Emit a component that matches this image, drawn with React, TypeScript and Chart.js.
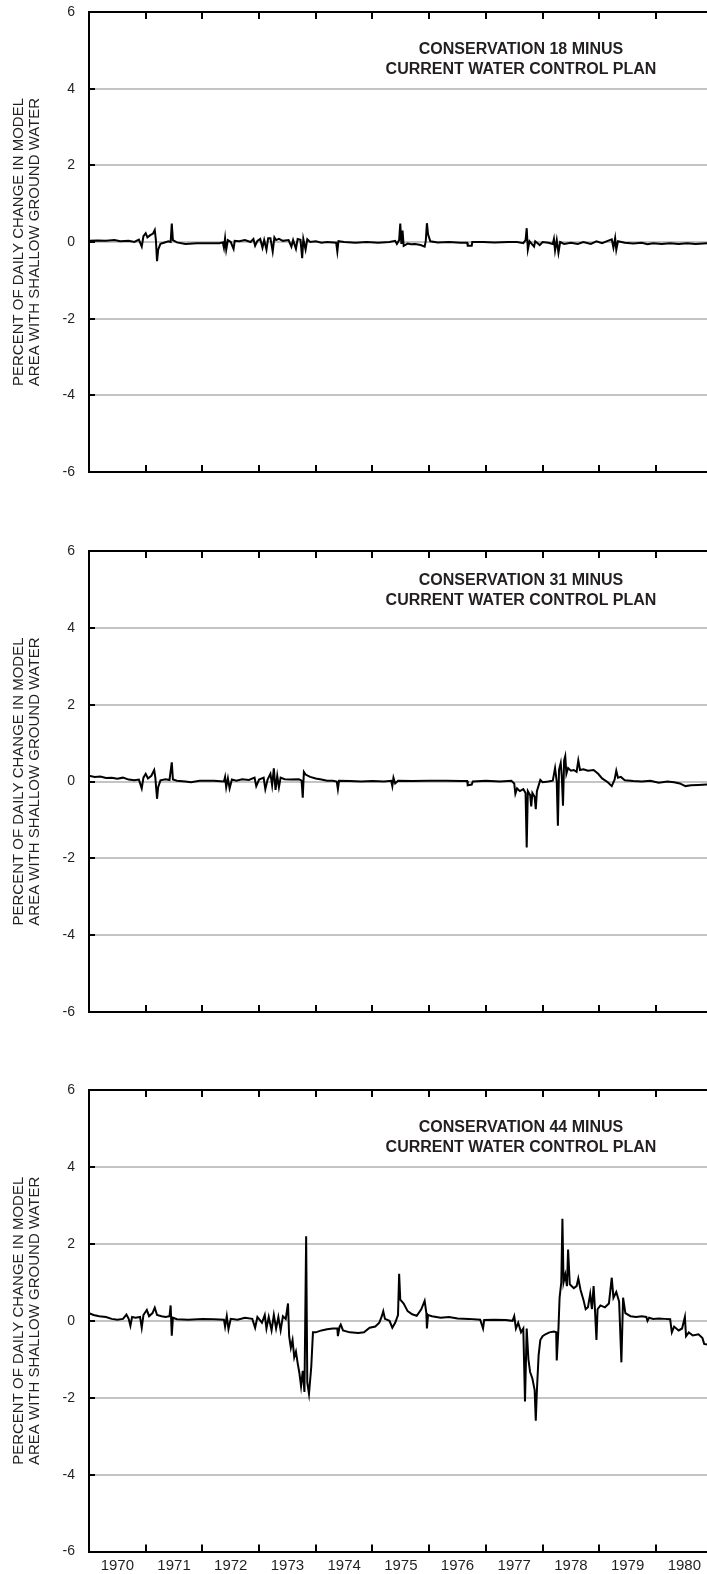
import React, { useEffect, useRef } from "react";
import { Chart, registerables } from "chart.js";

Chart.register(...registerables);

const FONT = '"Liberation Sans", Arial, Helvetica, sans-serif';
Chart.defaults.font.family = FONT;

// ---------- labels ----------
const yearLabels = ["1970", "1971", "1972", "1973", "1974", "1975", "1976", "1977", "1978", "1979", "1980"];
const yTickValues = [-6, -4, -2, 0, 2, 4, 6];
const yAxisTitle = ["PERCENT OF DAILY CHANGE IN MODEL", "AREA WITH SHALLOW GROUND WATER"];
const panelNames = ["CONSERVATION 18 MINUS", "CONSERVATION 31 MINUS", "CONSERVATION 44 MINUS"];
const planSubtitle = "CURRENT WATER CONTROL PLAN";

// ---------- data (decimal year, percent) ----------
const cons18Years = [
  1970.0, 1970.15, 1970.3, 1970.45, 1970.55, 1970.7, 1970.8, 1970.88, 1970.93, 1970.96,
  1971.0, 1971.03, 1971.08, 1971.13, 1971.16, 1971.18, 1971.2, 1971.22, 1971.26, 1971.32,
  1971.4, 1971.44, 1971.46, 1971.48, 1971.55, 1971.7, 1971.9, 1972.1, 1972.3, 1972.36,
  1972.38, 1972.4, 1972.42, 1972.45, 1972.5, 1972.55, 1972.57, 1972.65, 1972.75, 1972.85,
  1972.9, 1972.93, 1972.97, 1973.02, 1973.06, 1973.09, 1973.13, 1973.16, 1973.2, 1973.24,
  1973.27, 1973.3, 1973.35, 1973.42, 1973.52, 1973.57, 1973.6, 1973.65, 1973.68, 1973.73,
  1973.76, 1973.78, 1973.82, 1973.85, 1973.9, 1974.0, 1974.1, 1974.2, 1974.36, 1974.38,
  1974.4, 1974.5, 1974.7, 1974.9, 1975.1, 1975.3, 1975.4, 1975.43, 1975.47, 1975.49,
  1975.51, 1975.53, 1975.55, 1975.62, 1975.68, 1975.75, 1975.85, 1975.92, 1975.94, 1975.96,
  1975.98, 1976.02, 1976.15, 1976.35, 1976.55, 1976.67, 1976.68, 1976.75, 1976.76, 1976.95,
  1977.15, 1977.4, 1977.55, 1977.66, 1977.7, 1977.72, 1977.74, 1977.77, 1977.85, 1977.87,
  1977.95, 1978.0, 1978.1, 1978.18, 1978.2, 1978.22, 1978.25, 1978.28, 1978.31, 1978.38,
  1978.5, 1978.62, 1978.72, 1978.85, 1978.95, 1979.05, 1979.15, 1979.22, 1979.25, 1979.28,
  1979.3, 1979.33, 1979.45, 1979.6, 1979.75, 1979.85, 1979.95, 1980.1, 1980.25, 1980.4,
  1980.55, 1980.7, 1980.9,
];
const cons18Values = [
  0.03, 0.04, 0.03, 0.05, 0.02, 0.03, 0.0, 0.06, -0.12, 0.15,
  0.23, 0.12, 0.18, 0.22, 0.31, 0.05, -0.5, -0.2, -0.05, -0.02,
  0.02, 0.0, 0.48, 0.05, -0.01, -0.05, -0.03, -0.03, -0.03, -0.01,
  -0.15, 0.1, -0.2, 0.05, 0.0, -0.18, 0.03, 0.02, 0.05, 0.0,
  0.08, -0.1, 0.03, 0.08, -0.15, 0.05, -0.2, 0.1, 0.1, -0.25,
  0.12, 0.05, 0.08, 0.03, 0.05, -0.12, 0.05, -0.18, 0.08, 0.06,
  -0.42, 0.08, -0.2, 0.07, 0.0, 0.02, -0.02, 0.0, -0.02, -0.25,
  0.02, 0.0, -0.02, 0.0, -0.02, 0.0, 0.03, -0.05, 0.05, 0.48,
  -0.05, 0.3, -0.1, -0.04, -0.06, -0.05, -0.08, -0.12, 0.03, 0.49,
  0.2, 0.02, -0.01, 0.0, -0.02, -0.02, -0.1, -0.1, 0.0, 0.0,
  -0.01, 0.0, 0.0, -0.03, 0.05, 0.36, -0.2, 0.02, -0.12, 0.02,
  -0.08, 0.0, -0.02, -0.05, 0.08, -0.22, 0.05, -0.28, 0.0, -0.05,
  -0.02, -0.05, 0.0, -0.05, 0.02, -0.03, 0.03, 0.07, -0.15, 0.1,
  -0.2, 0.02, -0.02, -0.04, -0.02, -0.06, -0.03, -0.05, -0.03, -0.05,
  -0.03, -0.05, -0.03,
];

const cons31Years = [
  1970.0, 1970.1, 1970.2, 1970.3, 1970.4, 1970.5, 1970.6, 1970.7, 1970.8, 1970.88,
  1970.93, 1970.96, 1971.0, 1971.04, 1971.1, 1971.15, 1971.17, 1971.2, 1971.22, 1971.26,
  1971.35, 1971.42, 1971.46, 1971.48, 1971.55, 1971.7, 1971.8, 1971.95, 1972.2, 1972.38,
  1972.4, 1972.42, 1972.45, 1972.48, 1972.52, 1972.6, 1972.7, 1972.82, 1972.92, 1972.95,
  1973.0, 1973.08, 1973.11, 1973.15, 1973.2, 1973.23, 1973.26, 1973.29, 1973.32, 1973.35,
  1973.38, 1973.45, 1973.55, 1973.7, 1973.75, 1973.77, 1973.79, 1973.82, 1973.9, 1974.0,
  1974.1, 1974.2, 1974.3, 1974.37, 1974.39, 1974.41, 1974.6, 1974.8, 1975.0, 1975.2,
  1975.33, 1975.35, 1975.37, 1975.4, 1975.45, 1975.7, 1976.0, 1976.3, 1976.55, 1976.67,
  1976.68, 1976.75, 1976.77, 1977.0, 1977.25, 1977.45, 1977.5, 1977.52, 1977.55, 1977.6,
  1977.66, 1977.7, 1977.72, 1977.74, 1977.78, 1977.8, 1977.82, 1977.86, 1977.88, 1977.9,
  1977.96, 1978.0, 1978.1, 1978.18, 1978.22, 1978.25, 1978.27, 1978.29, 1978.32, 1978.34,
  1978.36, 1978.38, 1978.4, 1978.42, 1978.45, 1978.5, 1978.55, 1978.6, 1978.63, 1978.66,
  1978.72, 1978.8, 1978.9, 1978.98, 1979.05, 1979.15, 1979.22, 1979.27, 1979.3, 1979.33,
  1979.38, 1979.45, 1979.6, 1979.75, 1979.9, 1980.05, 1980.2, 1980.32, 1980.42, 1980.52,
  1980.62, 1980.75, 1980.9,
];
const cons31Values = [
  0.15, 0.12, 0.13, 0.09, 0.1, 0.07, 0.1, 0.05, 0.03, 0.05,
  -0.18, 0.1, 0.2, 0.08, 0.15, 0.3, 0.1, -0.45, -0.15, 0.03,
  0.06, 0.04, 0.5, 0.05, 0.02, 0.0, -0.02, 0.02, 0.02, 0.0,
  0.12, -0.15, 0.08, -0.18, 0.05, 0.02, 0.06, 0.04, 0.1, -0.12,
  0.05, 0.1, -0.2, 0.05, 0.2, -0.1, 0.34, -0.22, 0.15, -0.15,
  0.1, 0.06, 0.05, 0.06, 0.02, -0.42, 0.25, 0.18, 0.12, 0.08,
  0.05, 0.02, 0.02, 0.0, -0.2, 0.02, 0.01, 0.0, 0.01, 0.0,
  0.02, -0.12, 0.1, -0.05, 0.02, 0.01, 0.02, 0.02, 0.01, 0.01,
  -0.1, -0.08, 0.0, 0.02, 0.0, 0.02, -0.05, -0.32, -0.18, -0.25,
  -0.2, -0.3, -1.72, -0.25, -0.35, -0.65, -0.3, -0.4, -0.72, -0.25,
  0.04, -0.02, 0.0, 0.02, 0.35, 0.0, -1.15, 0.3, 0.48, 0.1,
  -0.63, 0.55, 0.66, 0.2, 0.35, 0.28, 0.3, 0.25, 0.55, 0.3,
  0.32, 0.28, 0.3, 0.2, 0.08, -0.02, -0.12, 0.05, 0.28, 0.1,
  0.12, 0.03, 0.01, 0.0, 0.02, -0.03, 0.0, -0.02, -0.05, -0.12,
  -0.1, -0.09, -0.08,
];

const cons44Years = [
  1970.0, 1970.08, 1970.18, 1970.3, 1970.4, 1970.5, 1970.6, 1970.66, 1970.7, 1970.73,
  1970.76, 1970.82, 1970.9, 1970.93, 1970.96, 1971.02, 1971.06, 1971.12, 1971.16, 1971.2,
  1971.28, 1971.35, 1971.42, 1971.44, 1971.46, 1971.48, 1971.55, 1971.75, 1972.0, 1972.2,
  1972.38, 1972.4, 1972.43, 1972.46, 1972.5, 1972.62, 1972.75, 1972.88, 1972.93, 1972.97,
  1973.05, 1973.1, 1973.13, 1973.17, 1973.22, 1973.26, 1973.3, 1973.34, 1973.38, 1973.42,
  1973.47, 1973.51, 1973.53, 1973.56, 1973.59, 1973.62, 1973.65, 1973.68, 1973.71, 1973.74,
  1973.77, 1973.8, 1973.83, 1973.85, 1973.88, 1973.92, 1973.95, 1974.0, 1974.1, 1974.2,
  1974.3, 1974.38, 1974.39, 1974.42, 1974.44, 1974.48, 1974.6, 1974.75, 1974.85, 1974.95,
  1975.05, 1975.12, 1975.16, 1975.19, 1975.22, 1975.3, 1975.35, 1975.4, 1975.45, 1975.47,
  1975.49, 1975.55, 1975.62, 1975.7, 1975.78, 1975.86, 1975.92, 1975.95, 1975.96, 1975.98,
  1976.05, 1976.2, 1976.35, 1976.5, 1976.7, 1976.9, 1976.95, 1976.97, 1977.15, 1977.35,
  1977.47, 1977.5, 1977.53, 1977.57, 1977.62, 1977.66, 1977.69, 1977.72, 1977.75, 1977.78,
  1977.82, 1977.86, 1977.88, 1977.9, 1977.93, 1977.96, 1978.0, 1978.05, 1978.12, 1978.2,
  1978.24, 1978.25, 1978.28, 1978.3, 1978.33, 1978.35, 1978.37, 1978.4, 1978.43, 1978.45,
  1978.48, 1978.55, 1978.6, 1978.63, 1978.67, 1978.72, 1978.76, 1978.8, 1978.84, 1978.87,
  1978.9, 1978.92, 1978.95, 1978.97, 1979.02, 1979.1, 1979.17, 1979.22, 1979.25, 1979.3,
  1979.35, 1979.39, 1979.42, 1979.46, 1979.55, 1979.65, 1979.75, 1979.83, 1979.85, 1979.88,
  1979.95, 1980.05, 1980.15, 1980.25, 1980.28, 1980.32, 1980.4, 1980.46, 1980.51, 1980.53,
  1980.58, 1980.65, 1980.75, 1980.82, 1980.85, 1980.9,
];
const cons44Values = [
  0.2, 0.15, 0.12, 0.1, 0.05, 0.03, 0.05, 0.16, 0.05, -0.13,
  0.1, 0.08, 0.1, -0.18, 0.15, 0.28, 0.12, 0.2, 0.34, 0.15,
  0.12, 0.1, 0.12, 0.4, -0.39, 0.08, 0.04, 0.03, 0.05, 0.04,
  0.03, -0.15, 0.12, -0.22, 0.05, 0.03, 0.08, 0.05, -0.18, 0.1,
  -0.05, 0.15, -0.2, 0.1, -0.25, 0.15, -0.2, 0.1, -0.25, 0.12,
  0.05, 0.45, -0.4, -0.7, -0.5, -0.95, -0.8, -1.1, -1.35, -1.7,
  -1.3, -1.85, 2.2, -1.6, -1.9, -1.2, -0.3, -0.3, -0.25, -0.22,
  -0.2, -0.2, -0.4, -0.15, -0.1, -0.25, -0.3, -0.32, -0.3, -0.18,
  -0.15, -0.05, 0.1, 0.25, 0.05, 0.0, -0.18, -0.05, 0.15, 1.22,
  0.55, 0.45, 0.25, 0.17, 0.13, 0.3, 0.52, 0.2, -0.2, 0.15,
  0.12, 0.08, 0.1, 0.06, 0.05, 0.03, -0.2, 0.02, 0.03, 0.02,
  0.0, 0.12, -0.2, -0.05, -0.3, -0.2, -2.1, -0.2, -1.0, -1.33,
  -1.5, -1.8, -2.6, -1.8, -0.9, -0.5, -0.4, -0.35, -0.3, -0.28,
  -0.3, -1.03, -0.2, 0.6, 1.0, 2.65, 1.0, 1.2, 0.9, 1.85,
  0.95, 0.85, 0.9, 1.1, 0.8, 0.55, 0.3, 0.35, 0.7, 0.3,
  0.9, 0.4, -0.5, 0.3, 0.4, 0.35, 0.45, 1.12, 0.6, 0.75,
  0.5, -1.08, 0.6, 0.2, 0.12, 0.1, 0.12, 0.1, 0.0, 0.08,
  0.05, 0.06, 0.05, 0.04, -0.3, -0.15, -0.25, -0.2, 0.1, -0.4,
  -0.3, -0.38, -0.35, -0.45, -0.6, -0.62,
];

const X_MIN = 1970;
const X_MAX = 1980.9;
const TEXT = "#231f20";

const framePlugin = {
  id: "frame",
  afterDraw(chart: any, _args: any, opts: any) {
    const { ctx, chartArea, scales } = chart;
    const { left, right, top, bottom } = chartArea;
    const x = scales.x;
    const y = scales.y;
    ctx.save();
    ctx.strokeStyle = "#000";
    ctx.lineWidth = 2;
    ctx.beginPath();
    ctx.moveTo(left - 1, top);
    ctx.lineTo(right, top);
    for (let yr = 1971; yr <= 1980; yr++) {
      const px = Math.round(x.getPixelForValue(yr));
      ctx.moveTo(px, top);
      ctx.lineTo(px, top + 7);
      ctx.moveTo(px, bottom);
      ctx.lineTo(px, bottom - 7);
    }
    for (const v of yTickValues) {
      if (Math.abs(v) === 6) continue;
      const py = Math.round(y.getPixelForValue(v));
      ctx.moveTo(left, py);
      ctx.lineTo(left + 6, py);
    }
    ctx.stroke();
    ctx.fillStyle = TEXT;
    ctx.font = `bold 16px ${FONT}`;
    ctx.textAlign = "center";
    ctx.textBaseline = "middle";
    ctx.fillText(opts.name, opts.cx, top + opts.titleOffset);
    ctx.fillText(planSubtitle, opts.cx, top + opts.titleOffset + 20);
    ctx.restore();
  },
};

type PanelProps = {
  years: number[];
  values: number[];
  name: string;
  top: number;
  height: number;
  padTop: number;
  xAxisH: number;
  showLabels: boolean;
  titleOffset: number;
};

function Panel(p: PanelProps) {
  const ref = useRef<HTMLCanvasElement | null>(null);
  useEffect(() => {
    if (!ref.current) return;
    const chart = new Chart(ref.current, {
      type: "line",
      data: {
        datasets: [
          {
            data: p.years.map((yr, i) => ({ x: yr, y: p.values[i] })),
            borderColor: "#000",
            borderWidth: 2,
            pointRadius: 0,
            tension: 0,
            fill: false,
          },
        ],
      },
      options: {
        responsive: false,
        animation: false,
        events: [],
        layout: { padding: { top: p.padTop, left: 0, right: 0, bottom: 0 } },
        plugins: {
          legend: { display: false },
          tooltip: { enabled: false },
          frame: { name: p.name, titleOffset: p.titleOffset, cx: 521 },
        } as any,
        scales: {
          x: {
            type: "linear",
            min: X_MIN,
            max: X_MAX,
            afterBuildTicks: (s: any) => {
              s.ticks = yearLabels.map((_, i) => ({ value: X_MIN + 0.5 + i }));
            },
            afterFit: (s: any) => {
              s.height = p.xAxisH;
            },
            grid: { display: true, drawOnChartArea: false, drawTicks: false },
            border: { display: true, color: "#000", width: 2 },
            ticks: {
              display: p.showLabels,
              autoSkip: false,
              maxRotation: 0,
              padding: 5,
              color: TEXT,
              font: { size: 15 },
              callback: (_v: any, i: number) => yearLabels[i],
            },
          },
          y: {
            type: "linear",
            min: -6,
            max: 6,
            afterBuildTicks: (s: any) => {
              s.ticks = yTickValues.map((v) => ({ value: v }));
            },
            afterFit: (s: any) => {
              s.width = 89;
            },
            grid: {
              color: (c: any) =>
                c.tick && Math.abs(c.tick.value) === 6 ? "rgba(0,0,0,0)" : "#c4c4c4",
              lineWidth: 2,
              drawTicks: false,
            },
            border: { display: true, color: "#000", width: 2 },
            ticks: {
              color: TEXT,
              font: { size: 14 },
              padding: 14,
              callback: (v: any) => String(v),
            },
            title: {
              display: true,
              text: yAxisTitle,
              color: TEXT,
              font: { size: 15, lineHeight: "16px" },
              padding: { top: 11, bottom: 0 },
            },
          },
        },
      } as any,
      plugins: [framePlugin],
    });
    return () => chart.destroy();
  }, []);
  return (
    <canvas
      ref={ref}
      width={707}
      height={p.height}
      style={{ position: "absolute", left: 0, top: p.top, width: 707, height: p.height }}
    />
  );
}

export default function App() {
  return (
    <div
      style={{
        position: "absolute",
        left: 0,
        top: 0,
        width: 707,
        height: 1574,
        background: "#fff",
        overflow: "hidden",
      }}
    >
      <Panel years={cons18Years} values={cons18Values} name={panelNames[0]} top={-12} height={512} padTop={24} xAxisH={28} showLabels={false} titleOffset={38} />
      <Panel years={cons31Years} values={cons31Values} name={panelNames[1]} top={520} height={520} padTop={31} xAxisH={28} showLabels={false} titleOffset={30} />
      <Panel years={cons44Years} values={cons44Values} name={panelNames[2]} top={1060} height={514} padTop={30} xAxisH={22} showLabels={true} titleOffset={38} />
    </div>
  );
}
